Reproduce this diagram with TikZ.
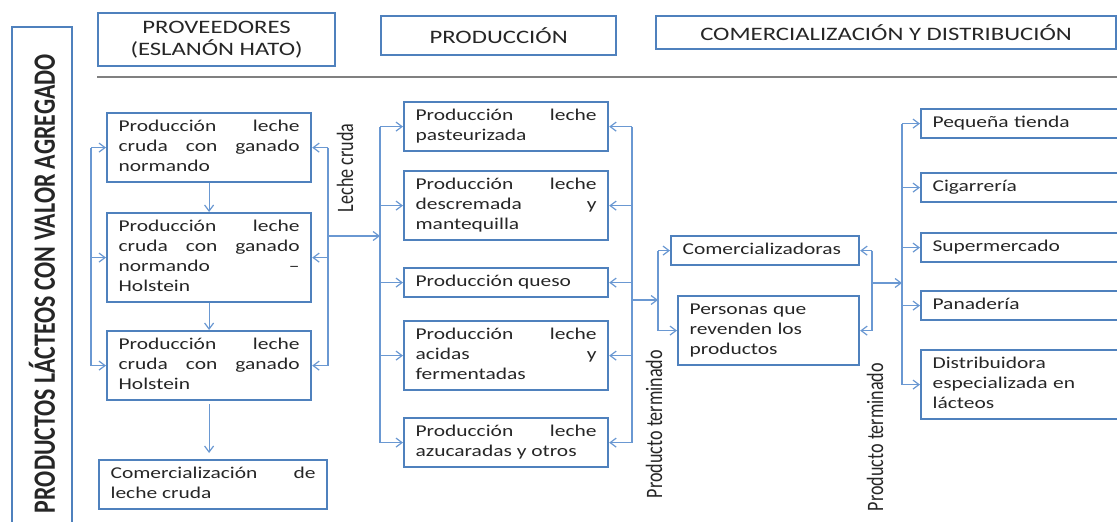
\documentclass[tikz,border=0pt]{standalone}
\usepackage{fontspec}
\setmainfont{Carlito}
\newfontfamily\boxfont[FakeStretch=1.3]{Carlito}
\newfontfamily\upfont[FakeStretch=0.77]{Carlito}
\usetikzlibrary{arrows.meta}
\definecolor{boxblue}{HTML}{4F81BD}
\definecolor{linkblue}{HTML}{6A98D2}
\definecolor{rulegray}{HTML}{808080}
\hyphenpenalty=10000
\exhyphenpenalty=10000
\tolerance=9999
\emergencystretch=20pt

\begin{document}
\begin{tikzpicture}[
	x=1pt, y=-1pt,
	box/.style = {draw=boxblue, line width=2.2pt, anchor=north west, text=black!85,
		font=\boxfont\fontsize{16.5}{20}\selectfont, text width=181pt, align=justify,
		inner xsep=11.5pt, inner ysep=4.5pt,
		execute at begin node=\strut, execute at end node=\strut},
	plainbox/.style = {box, align=left},
	head/.style = {draw=boxblue, line width=2.2pt, anchor=north west, text=black!85,
		font=\boxfont\fontsize{19}{22}\selectfont, align=center, inner sep=0pt},
	turned/.style = {rotate=90, text=black!85, font=\upfont\fontsize{23.5}{26}\selectfont, inner sep=0pt},
	link/.style = {draw=linkblue, line width=1.2pt},
	feed/.style = {link, -{Straight Barb[length=6pt,width=9pt]}},
	]
	\useasboundingbox (0,0) rectangle (1117,522);

	\node[draw=boxblue, line width=2.2pt, rotate=90, minimum width=513pt, minimum height=60pt,
		inner sep=0pt, text=black!85, font=\upfont\bfseries\fontsize{31}{36}\selectfont]
		(title) at (42,283.5) {PRODUCTOS LÁCTEOS CON VALOR AGREGADO};

	\node[head, minimum width=237pt, minimum height=53pt] (prov) at (97,12) {PROVEEDORES\\(ESLANÓN HATO)};
	\node[head, minimum width=235pt, minimum height=39pt] (prod) at (380,15) {PRODUCCIÓN};
	\node[head, minimum width=460pt, minimum height=33pt] (comdis) at (655,15) {COMERCIALIZACIÓN Y DISTRIBUCIÓN};
	\draw[rulegray, line width=1.8pt] (97,77) -- (1117,77);

	\node[box] (crudaN) at (106,112) {Producción leche cruda con ganado normando};
	\node[box] (crudaNH) at (106,212) {Producción leche cruda con ganado normando –\linebreak Holstein};
	\node[box] (crudaH) at (106,330) {Producción leche cruda con ganado Holstein};
	\node[box, text width=205pt] (venta) at (98,459) {Comercialización de leche cruda};

	\node[box] (pasteur) at (403,101) {Producción leche pasteurizada};
	\node[box] (descrem) at (403,170) {Producción leche descremada y mantequilla};
	\node[box] (queso) at (403,267) {Producción queso};
	\node[box] (acidas) at (403,320) {Producción leche\linebreak acidas y\linebreak fermentadas};
	\node[box] (azucar) at (403,417) {Producción leche azucaradas y otros};

	\node[plainbox, text width=165pt] (comer) at (670,235) {Comercializadoras};
	\node[plainbox, text width=158pt] (revende) at (677,295) {Personas que revenden los productos};

	\node[plainbox, text width=200pt] (tienda) at (920,108) {Pequeña tienda};
	\node[plainbox, text width=200pt] (cigarro) at (920,172) {Cigarrería};
	\node[plainbox, text width=200pt] (super) at (920,232) {Supermercado};
	\node[plainbox, text width=200pt] (panaderia) at (920,290) {Panadería};
	\node[plainbox, text width=200pt] (distrib) at (920,349) {Distribuidora especializada en lácteos};

	\node[turned] (lechelbl) at (345,168) {Leche cruda};
	\node[turned] (termlbl) at (654,424) {Producto terminado};
	\node[turned] (termlbl2) at (875,437) {Producto terminado};

	\coordinate (lbar) at (91,0);
	\coordinate (rbar) at (328,236);
	\coordinate (mbar) at (380,236);
	\coordinate (pbar) at (632,300);
	\coordinate (cbar) at (658,300);
	\coordinate (dbar) at (872,283);
	\coordinate (tbar) at (902,283);

	\draw[feed] (crudaN) -- (crudaNH);
	\draw[feed] (crudaNH) -- (crudaH);
	\draw[feed, shorten <=3pt, shorten >=6pt] (crudaH.south) -- (crudaH.south |- venta.north);

	\draw[link] (crudaN.west -| lbar) -- (crudaH.west -| lbar);
	\draw[link] (crudaN.east -| rbar) -- (crudaH.east -| rbar);
	\foreach \n in {crudaN,crudaNH,crudaH} {
		\draw[feed] (\n.west -| lbar) -- (\n.west);
		\draw[feed] (\n.east -| rbar) -- (\n.east);
	}
	\draw[feed] (rbar) -- (mbar);

	\draw[link] (pasteur.west -| mbar) -- (azucar.west -| mbar);
	\draw[link] (pasteur.east -| pbar) -- (azucar.east -| pbar);
	\foreach \n in {pasteur,descrem,queso,acidas,azucar} {
		\draw[feed] (\n.west -| mbar) -- (\n.west);
		\draw[feed] (\n.east -| pbar) -- (\n.east);
	}
	\draw[feed] (pbar) -- (cbar);

	\draw[link] (comer.west -| cbar) -- (revende.west -| cbar);
	\draw[link] (comer.east -| dbar) -- (revende.east -| dbar);
	\foreach \n in {comer,revende} {
		\draw[feed] (\n.west -| cbar) -- (\n.west);
		\draw[feed] (\n.east -| dbar) -- (\n.east);
	}
	\draw[feed] (dbar) -- (tbar);

	\draw[link] (tienda.west -| tbar) -- (distrib.west -| tbar);
	\foreach \n in {tienda,cigarro,super,panaderia,distrib}
		\draw[feed] (\n.west -| tbar) -- (\n.west);
\end{tikzpicture}
\end{document}
